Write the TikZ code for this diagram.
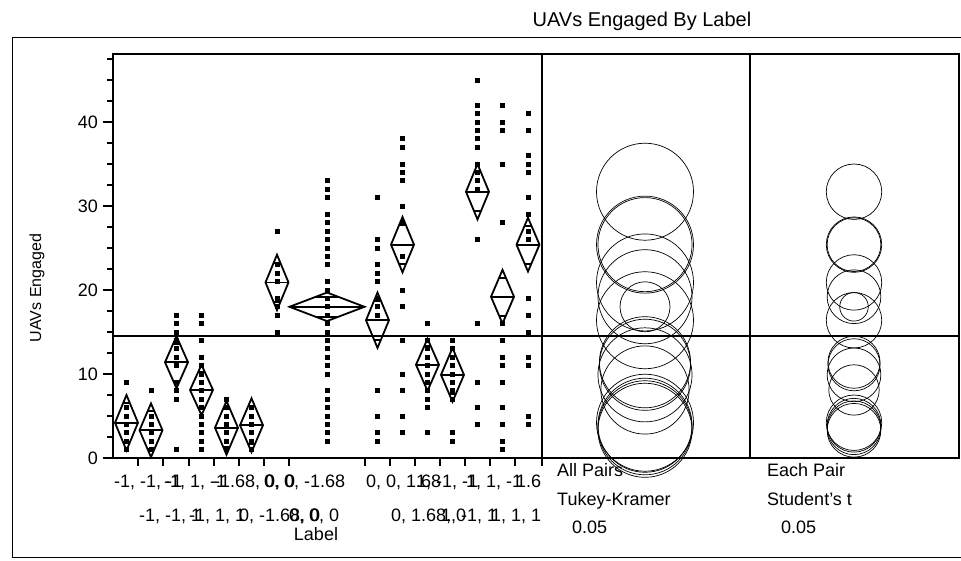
\documentclass[tikz,border=0pt]{standalone}
\usepackage{fontspec}
\setmainfont{Liberation Sans}
\usetikzlibrary{positioning}
\tikzstyle {data point} = [fill=black]
\tikzset{axis line/.style = {line width=1.6pt},
    diamond line/.style = {line width=1.8pt, line join=miter},
    circle line/.style = {line width=0.7pt},
    frame line/.style = {line width=0.8pt},
    group label/.style = {anchor=base west, inner sep=0pt, font=\fontsize{18}{20}\selectfont},
    tick label/.style = {anchor=east, inner sep=0pt, font=\fontsize{18}{20}\selectfont},
    side text/.style = {anchor=base west, inner sep=0pt, font=\fontsize{18}{20}\selectfont}}

\begin{document}
\begin{tikzpicture}[x=1pt,y=-1pt]
            \useasboundingbox (0,0) rectangle (961,560);
            \node[font=\fontsize{20}{22}\selectfont] (title) at (642,21) {UAVs Engaged By Label};
            \draw[frame line] (12,37) rectangle (966,557);
            \draw[axis line] (113,54) rectangle (959,458);
            \draw[axis line] (542,54) -- (542,458);
            \draw[axis line] (750,54) -- (750,458);
            \foreach \t in {138,163,189,214,239,264,289,365,390,415,440,465,490,515,542}
                \draw[axis line] (\t,458) -- (\t,466);
            \node[font=\fontsize{16}{18}\selectfont, rotate=90] (ylabel) at (37,288) {UAVs Engaged};
            \node[font=\fontsize{18}{20}\selectfont, anchor=base, inner sep=0pt] (xlabel) at (316,540) {Label};
            \begin{scope}
                \clip (100,462) rectangle (540,528);
                \node[group label] (g1) at (114,487) {-1, -1, -1};
                \node[group label] (g3) at (164,487) {-1, 1, -1};
                \node[group label] (g5) at (214,487) {-1.68, 0, 0};
                \node[group label] (g7) at (264,487) {0, 0, -1.68};
                \node[group label] (g9) at (366,487) {0, 0, 1.68};
                \node[group label] (g11) at (416,487) {1, -1, -1};
                \node[group label] (g13) at (466,487) {1, 1, -1};
                \node[group label] (g15) at (516,487) {1.68, 0, 0};
                \node[group label] (g2) at (139,521) {-1, -1, 1};
                \node[group label] (g4) at (189,521) {-1, 1, 1};
                \node[group label] (g6) at (239,521) {0, -1.68, 0};
                \node[group label] (g8) at (289,521) {0, 0, 0};
                \node[group label] (g10) at (391,521) {0, 1.68, 0};
                \node[group label] (g12) at (441,521) {1, -1, 1};
                \node[group label] (g14) at (491,521) {1, 1, 1};
            \end{scope}
            \node[side text] (tk1) at (557,476) {All Pairs};
            \node[side text] (tk2) at (557,505) {Tukey-Kramer};
            \node[side text] (tk3) at (572,533) {0.05};
            \node[side text] (st1) at (767,476) {Each Pair};
            \node[side text] (st2) at (767,505) {Student's t};
            \node[side text] (st3) at (781,533) {0.05};
            \begin{scope}[shift={(0,458)}, y=8.4pt]
                \foreach \v in {2.5,5,...,47.5}
                    \draw[axis line] (107,\v) -- (113,\v);
                \foreach \v in {0,10,20,30,40} {
                    \draw[axis line] (103,\v) -- (113,\v);
                    \node[tick label] (tick\v) at (98,\v) {\v};
                }
                \draw[axis line] (113,14.5) -- (959,14.5);
                \foreach \cx/\vals in {126.5/{9,6,5,4,3,2,1}, 151/{8,5,4,3,2,1},
                        176.5/{17,16,15,14,13,12,11,9,8,7,1},
                        201.5/{17,16,14,12,11,10,9,8,7,6,5,4,3,2,1},
                        226.5/{7,6,5,4,3,2,1}, 251.5/{6,5,4,3,2,1},
                        277/{27,23,22,21,19,18,17,15},
                        327/{33,32,31,29,28,27,26,25,24,23,21,20,19,18,17,16,15,14,13,12,11,10,8,7,6,5,4,3,2},
                        377.5/{31,26,25,23,22,21,19,18,17,8,5,3,2},
                        402.5/{38,37,35,34,33,30,28,24,20,18,14,10,8,5,3},
                        427.5/{16,14,13,12,11,10,9,8,7,6,3},
                        452.5/{14,13,12,11,10,9,8,7,3,2},
                        477.5/{45,42,41,40,39,38,37,35,34,33,32,26,16,9,6,4},
                        502.5/{42,40,39,35,28,16,14,12,11,9,6,4,2,1},
                        528/{41,39,36,35,34,31,29,27,26,19,17,15,12,11,5,4}}
                    \foreach \v in \vals
                        \fill[data point] (\cx,\v) ++(-2.5pt,-2.5pt) rectangle ++(5pt,5pt);
                \foreach \cx/\m/\h/\w in {126.5/4.2/3.3/11.5, 151/3.3/3.2/11.5, 176.5/11.4/3.1/11.5,
                        201.5/8.1/3.0/11.5, 226.5/3.6/3.2/11.5, 251.5/3.9/3.2/11.5,
                        277/20.9/3.3/11.5, 327/18.0/1.7/37.5, 377.5/16.4/3.3/11.5,
                        402.5/25.4/3.3/11.5, 427.5/11.1/3.1/11.5, 452.5/9.9/3.2/11.5,
                        477.5/31.7/3.3/11.5, 502.5/19.2/3.2/11.5, 528/25.4/3.2/11.5} {
                    \draw[diamond line] (\cx-\w,\m) -- (\cx,\m+\h) -- (\cx+\w,\m) -- (\cx,\m-\h) -- cycle;
                    \draw[diamond line] (\cx-\w,\m) -- (\cx+\w,\m);
                    \draw[diamond line] (\cx-0.293*\w,\m+0.707*\h) -- (\cx+0.293*\w,\m+0.707*\h);
                    \draw[diamond line] (\cx-0.293*\w,\m-0.707*\h) -- (\cx+0.293*\w,\m-0.707*\h);
                    \draw[circle line] (645,\m) circle[radius={14.7pt*\h}];
                    \draw[circle line] (854,\m) circle[radius={8.4pt*\h}];
                }
            \end{scope}
        \end{tikzpicture}
\end{document}
